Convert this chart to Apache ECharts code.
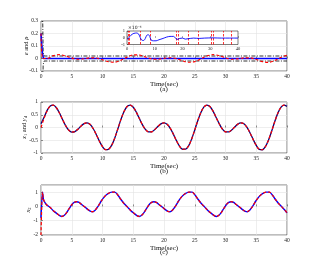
<!DOCTYPE html>
<html><head><meta charset="utf-8">
<script src="https://cdn.jsdelivr.net/npm/echarts@6/dist/echarts.min.js"></script>
<style>html,body{margin:0;padding:0;background:#fff}#c{width:317px;height:274px}</style>
</head><body><div id="c"></div>
<script>
// ---------- data ----------
const xTicks = [0,5,10,15,20,25,30,35,40];
// panel (a): tracking error e (red dashed), bounds rho (black dash-dot), blue error
const eT = [0,0.3,1,2,3,4,5,6,7,8,9,10,11,12,13,14,15,16,17,18,19,20,21,22,23,24,25,26,27,28,29,30,31,32,33,34,35,36,37,38,39,40];
const eV = [0.2,0.0,0,0.023,0.031,0.020,0.003,-0.006,-0.002,0.005,0.004,-0.010,-0.026,-0.030,-0.014,0.011,0.029,0.028,0.012,-0.003,-0.006,0.001,0.006,-0.001,-0.018,-0.030,-0.025,-0.003,0.021,0.031,0.022,0.005,-0.006,-0.003,0.005,0.005,-0.008,-0.025,-0.031,-0.017,0.008,0.027];
const rhoT = [0,0.25,0.35,0.5,40];
const rhoUp = [0.6,0.4,0.05,0.02,0.02];
const rhoLow = [-0.6,-0.4,-0.05,-0.02,-0.02];
const blueAT = [0,0.2,0.4,40];
const blueAV = [0.2,0.05,0,0];
// inset (x1e-4)
const insetT = [0,0.5,1,1.8,2.5,3.5,4.2,4.8,5.3,6,6.6,7.1,7.7,8.2,8.7,9.5,10.5,11.5,13,14.3,15.5,16.8,17.5,18,19,20,21,22,24,26,28,31,34,37,40];
const insetV = [-0.2,-0.1,0.2,0.5,0.65,0.7,0.55,0.0,-0.35,-0.4,-0.1,0.35,0.45,0.2,-0.35,-0.45,-0.45,-0.3,-0.1,0.1,0.2,0.2,-0.05,-0.25,-0.1,-0.05,-0.2,-0.15,-0.05,-0.1,-0.05,-0.02,-0.05,-0.05,-0.05];
const eventTimes = [0.3,0.9,4.9,8.5,17.6,18.3,21.9,25.7,30.2,31.2,34.8,37.7];
// panel (b): sampled every 0.5 s
const dtB = 0.5;
const yd = [0,0.363,0.66,0.84,0.875,0.774,0.569,0.317,0.076,-0.10,
 -0.18,-0.162,-0.069,0.054,0.153,0.183,0.116,-0.048,-0.283,-0.537,
 -0.752,-0.87,-0.853,-0.693,-0.408,-0.05,0.318,0.627,0.824,0.879,
 0.794,0.601,0.35,0.103,-0.082,-0.175,-0.17,-0.083,0.038,0.143,
 0.185,0.13,-0.022,-0.251,-0.504,-0.724,-0.853,-0.85,-0.721,-0.448,
 -0.099,0.272,0.592,0.808,0.88,0.813,0.631,0.382,0.136,-0.064,
 -0.169,-0.173,-0.099,0.021,0.132,0.183,0.144,0.002,-0.216,-0.471,
 -0.704,-0.86,-0.872,-0.746,-0.491,-0.148,0.223,0.554,0.785,0.879,0.829];
const x1 = [0.15,0.40,0.67,0.84,0.875,0.774,0.569,0.317,0.076,-0.10,
 -0.18,-0.162,-0.069,0.054,0.153,0.183,0.116,-0.048,-0.283,-0.537,
 -0.752,-0.87,-0.853,-0.693,-0.408,-0.05,0.318,0.627,0.824,0.879,
 0.794,0.601,0.35,0.103,-0.082,-0.175,-0.17,-0.083,0.038,0.143,
 0.185,0.13,-0.022,-0.251,-0.504,-0.724,-0.853,-0.85,-0.721,-0.448,
 -0.099,0.272,0.592,0.808,0.88,0.813,0.631,0.382,0.136,-0.064,
 -0.169,-0.173,-0.099,0.021,0.132,0.183,0.144,0.002,-0.216,-0.471,
 -0.704,-0.86,-0.872,-0.746,-0.491,-0.148,0.223,0.554,0.785,0.879,0.829];
// panel (c)
const x2T = [0,0.25,0.4,0.6,0.9,1.5,2.0,2.6,3.1,3.4,3.8,4.2,4.6,5.0,5.4,5.8,6.2,6.6,7.2,7.7,8.1,8.4,8.8,9.3,9.8,10.4,10.9,11.5,12.0,
 12.57,12.97,13.47,14.07,14.57,15.17,15.67,15.97,16.37,16.77,17.17,17.57,17.97,18.37,18.77,19.17,19.77,20.27,20.67,20.97,21.37,21.87,22.37,22.97,23.47,24.07,24.57,
 25.13,25.53,26.03,26.63,27.13,27.73,28.23,28.53,28.93,29.33,29.73,30.13,30.53,30.93,31.33,31.73,32.33,32.83,33.23,33.53,33.93,34.43,34.93,35.53,36.03,36.63,37.13,
 37.7,38.1,38.6,39.2,39.7,40];
const x2V = [-0.8,1.0,0.5,0.3,0.12,-0.08,-0.3,-0.5,-0.66,-0.7,-0.62,-0.42,-0.14,0.12,0.28,0.33,0.28,0.14,-0.06,-0.24,-0.35,-0.37,-0.26,0.02,0.38,0.72,0.9,1.0,1.0,
 0.75,0.5,0.22,-0.05,-0.28,-0.5,-0.66,-0.7,-0.62,-0.42,-0.14,0.12,0.28,0.33,0.28,0.14,-0.06,-0.24,-0.35,-0.37,-0.26,0.02,0.38,0.72,0.9,1.0,1.0,
 0.75,0.5,0.22,-0.05,-0.28,-0.5,-0.66,-0.7,-0.62,-0.42,-0.14,0.12,0.28,0.33,0.28,0.14,-0.06,-0.24,-0.35,-0.37,-0.26,0.02,0.38,0.72,0.9,1.0,1.0,
 0.75,0.5,0.22,-0.05,-0.28,-0.45];
const x2rV = [-2.0,1.0,0.5,0.3,0.12,-0.08,-0.3,-0.5,-0.66,-0.7,-0.62,-0.42,-0.14,0.12,0.28,0.33,0.28,0.14,-0.06,-0.24,-0.35,-0.37,-0.26,0.02,0.38,0.72,0.9,1.0,1.0,
 0.75,0.5,0.22,-0.05,-0.28,-0.5,-0.66,-0.7,-0.62,-0.42,-0.14,0.12,0.28,0.33,0.28,0.14,-0.06,-0.24,-0.35,-0.37,-0.26,0.02,0.38,0.72,0.9,1.0,1.0,
 0.75,0.5,0.22,-0.05,-0.28,-0.5,-0.66,-0.7,-0.62,-0.42,-0.14,0.12,0.28,0.33,0.28,0.14,-0.06,-0.24,-0.35,-0.37,-0.26,0.02,0.38,0.72,0.9,1.0,1.0,
 0.75,0.5,0.22,-0.05,-0.28,-0.45];

// ---------- helpers ----------
const zip = (ts, vs) => ts.map((t, i) => [t, vs[i]]);
const stepPairs = (vs, dt) => vs.map((v, i) => [i * dt, v]);
const FONT = 'Liberation Serif';
const AX = '#262626', GRIDC = '#e3e3e3';

function xAx(gi) {
  return {
    type: 'value', gridIndex: gi, min: 0, max: 40, interval: 5, z: 1,
    axisLine: { show: false }, axisTick: { inside: true, length: 2, lineStyle: { color: AX, width: 0.5 } },
    axisLabel: { fontSize: 5.5, fontFamily: FONT, color: '#222', margin: 3 },
    splitLine: { show: true, lineStyle: { color: GRIDC, width: 0.6 } },
    name: 'Time(sec)', nameLocation: 'middle', nameGap: 10, nameMoveOverlap: false,
    nameTextStyle: { fontSize: 7, fontFamily: FONT, color: '#111' }
  };
}
function yAx(gi, min, max, interval, name, gap, extra) {
  return Object.assign({
    type: 'value', gridIndex: gi, min, max, interval, z: 1,
    axisLine: { show: false }, axisTick: { inside: true, length: 2, lineStyle: { color: AX, width: 0.5 } },
    axisLabel: { fontSize: 5.5, fontFamily: FONT, color: '#222', margin: 3 },
    splitLine: { show: true, lineStyle: { color: GRIDC, width: 0.6 } },
    name, nameLocation: 'middle', nameRotate: 90, nameGap: gap, nameMoveOverlap: false,
    nameTextStyle: { fontSize: 6.5, fontFamily: FONT, color: '#111', rich: {
      i: { fontStyle: 'italic', fontSize: 6.5, fontFamily: FONT },
      s: { fontSize: 4.5, fontFamily: FONT, verticalAlign: 'bottom' } } }
  }, extra || {});
}

const chart = echarts.init(document.getElementById('c'), null, { renderer: 'canvas' });
chart.setOption({
  animation: false,
  backgroundColor: '#fff',
  grid: [
    { left: 41, top: 21, width: 246, height: 50, show: true, borderColor: AX, borderWidth: 0.6 },
    { left: 41, top: 102, width: 246, height: 51, show: true, borderColor: AX, borderWidth: 0.6 },
    { left: 41, top: 185, width: 246, height: 50, show: true, borderColor: AX, borderWidth: 0.6 },
    { left: 127, top: 31, width: 111, height: 13.5, show: true, borderColor: AX, borderWidth: 0.6, backgroundColor: '#fff', z: 3 }
  ],
  xAxis: [
    xAx(0), xAx(1), xAx(2),
    { type: 'value', gridIndex: 3, min: 0, max: 40, interval: 10, z: 4,
      axisLine: { show: false }, axisTick: { inside: true, length: 1.5, lineStyle: { color: AX, width: 0.5 } },
      axisLabel: { fontSize: 4.5, fontFamily: FONT, color: '#222', margin: 2 },
      splitLine: { show: false } }
  ],
  yAxis: [
    yAx(0, -0.1, 0.3, 0.1, '{i|e} and {i|ρ}', 11),
    yAx(1, -1, 1, 0.5, '{i|x}{s|1} and {i|y}{s|d}', 13),
    yAx(2, -2, 1.5, 1, '{i|x}{s|2}', 9, { axisLabel: { fontSize: 5.5, fontFamily: FONT, color: '#222', margin: 3, showMaxLabel: false } }),
    { type: 'value', gridIndex: 3, min: -1, max: 1, interval: 1, z: 4,
      axisLine: { show: false }, axisTick: { inside: true, length: 1.5, lineStyle: { color: AX, width: 0.5 } },
      axisLabel: { fontSize: 4.5, fontFamily: FONT, color: '#222', margin: 2 },
      splitLine: { show: false } }
  ],
  graphic: [
    { type: 'text', left: 164 - 4, top: 85.5, z: 10, style: { text: '(a)', font: '7px "Liberation Serif"', fill: '#111' } },
    { type: 'text', left: 164 - 4, top: 168, z: 10, style: { text: '(b)', font: '7px "Liberation Serif"', fill: '#111' } },
    { type: 'text', left: 164 - 4, top: 248.5, z: 10, style: { text: '(c)', font: '7px "Liberation Serif"', fill: '#111' } },
    { type: 'text', left: 128, top: 25.5, z: 10, style: { text: '×10⁻⁴', font: '4.5px "DejaVu Sans"', fill: '#222' } }
  ],
  series: [
    // panel (a)
    { type: 'line', xAxisIndex: 0, yAxisIndex: 0, data: zip(rhoT, rhoUp), symbol: 'none',
      lineStyle: { color: '#000', width: 0.8, type: [4, 1.5, 1, 1.5] } },
    { type: 'line', xAxisIndex: 0, yAxisIndex: 0, data: zip(rhoT, rhoLow), symbol: 'none',
      lineStyle: { color: '#000', width: 0.8, type: [4, 1.5, 1, 1.5] } },
    { type: 'line', xAxisIndex: 0, yAxisIndex: 0, data: zip(blueAT, blueAV), symbol: 'none',
      lineStyle: { color: '#0000ff', width: 1.6 } },
    { type: 'line', xAxisIndex: 0, yAxisIndex: 0, data: zip(eT, eV), symbol: 'none', smooth: 0.3,
      lineStyle: { color: '#ff0000', width: 1.1, type: [3, 2] } },
    // inset
    { type: 'line', xAxisIndex: 3, yAxisIndex: 3, data: zip(insetT, insetV), symbol: 'none', smooth: 0.3, z: 6,
      lineStyle: { color: '#0000ff', width: 0.9 },
      markLine: { silent: true, symbol: 'none', label: { show: false },
        lineStyle: { color: '#ff0000', width: 0.8, type: [2.5, 1.5] },
        data: eventTimes.map(t => ({ xAxis: t })) } },
    // panel (b)
    { type: 'line', xAxisIndex: 1, yAxisIndex: 1, data: stepPairs(x1, dtB), symbol: 'none', smooth: 0.3,
      lineStyle: { color: '#00007a', width: 1.3 } },
    { type: 'line', xAxisIndex: 1, yAxisIndex: 1, data: stepPairs(yd, dtB), symbol: 'none', smooth: 0.3,
      lineStyle: { color: '#ff0000', width: 1.2, type: [3, 2] } },
    // panel (c)
    { type: 'line', xAxisIndex: 2, yAxisIndex: 2, data: zip(x2T, x2V), symbol: 'none', smooth: 0.3,
      lineStyle: { color: '#0000ff', width: 1.4 } },
    { type: 'line', xAxisIndex: 2, yAxisIndex: 2, data: zip(x2T, x2rV), symbol: 'none', smooth: 0.3,
      lineStyle: { color: '#ff0000', width: 1.2, type: [3, 2] } }
  ]
});
</script></body></html>
